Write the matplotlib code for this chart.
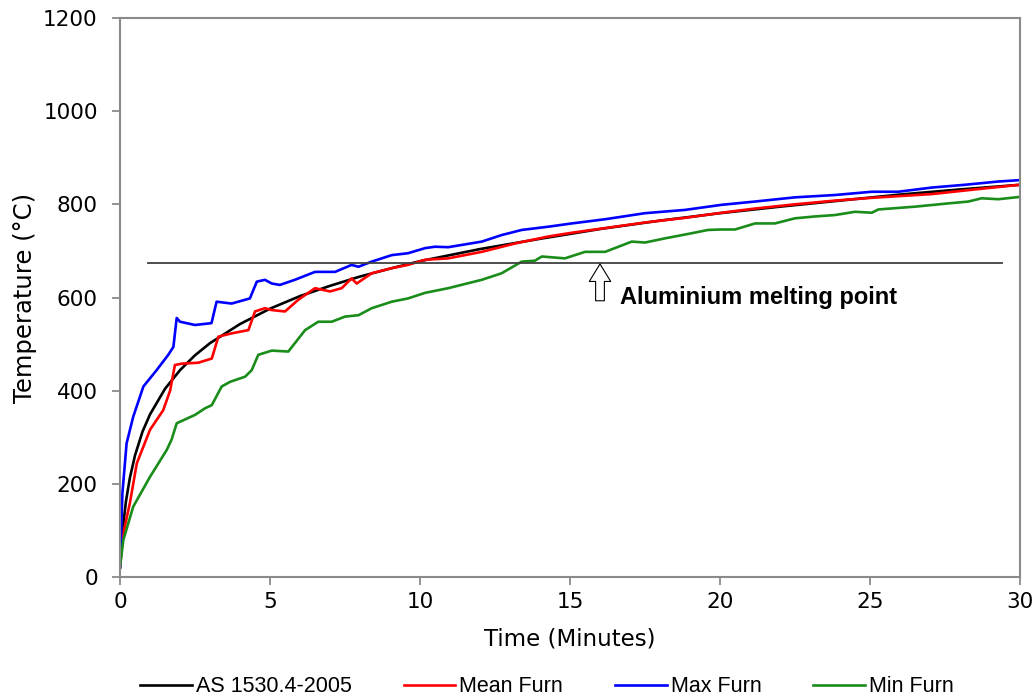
import matplotlib
matplotlib.use("Agg")
import matplotlib.pyplot as plt

plt.rcParams['font.family'] = ['Liberation Sans', 'DejaVu Sans']

# ---- data ----
std_t = [0, 0.05, 0.1, 0.2, 0.33, 0.5, 0.75, 1, 1.5, 2, 2.5, 3, 4, 5, 6, 7, 8, 9, 10, 12, 14, 16, 18, 20, 22, 24, 26, 28, 30]
std_T = [20, 70, 108, 163, 213, 261, 312, 349, 404, 444, 476, 502, 543, 576, 603, 625, 645, 662, 678, 704, 726, 747, 765, 781, 795, 808, 821, 832, 842]

mean_t = [0, 0.1, 0.33, 0.56, 1.0, 1.44, 1.67, 1.83, 2.06, 2.61, 3.06, 3.28, 3.72, 4.28, 4.5, 4.83, 5.06,
          5.5, 5.94, 6.5, 7.0, 7.39, 7.72, 7.89, 8.39, 9.06, 9.6, 10.17, 10.94, 12.06, 13.17, 14.28, 15.06,
          16.17, 17.5, 18.83, 20.06, 21.17, 22.5, 23.83, 25.06, 27.06, 28.5, 30]
mean_T = [21, 90, 159, 244, 316, 358, 400, 455, 458, 460, 469, 516, 523, 530, 570, 577, 573,
          570, 595, 620, 613, 620, 641, 630, 652, 663, 670, 681, 684, 698, 716, 731, 739,
          749, 761, 771, 782, 791, 800, 808, 814, 822, 832, 842]

max_t = [0, 0.08, 0.22, 0.44, 0.78, 1.22, 1.61, 1.78, 1.89, 2.0, 2.5, 3.05, 3.22, 3.72, 4.33, 4.56, 4.83, 5.06, 5.33,
         5.83, 6.5, 7.17, 7.72, 7.95, 8.39, 9.06, 9.6, 10.17, 10.5, 10.94, 12.06, 12.72, 13.39, 14.28,
         15.06, 16.17, 17.5, 18.83, 20.06, 21.17, 22.5, 23.83, 25.06, 25.94, 27.06, 28.17, 29.28, 30]
max_T = [21, 180, 287, 344, 409, 444, 477, 494, 556, 548, 541, 545, 591, 587, 598, 634, 638, 630, 627,
         638, 655, 655, 670, 666, 677, 691, 695, 706, 709, 708, 720, 734, 745, 752,
         759, 768, 781, 788, 799, 806, 815, 820, 827, 827, 836, 842, 849, 852]

min_t = [0, 0.11, 0.44, 1.0, 1.56, 1.72, 1.89, 2.5, 2.83, 3.06, 3.39, 3.67, 4.17, 4.39, 4.61, 5.06, 5.61,
         5.83, 6.17, 6.61, 7.06, 7.5, 7.95, 8.39, 9.06, 9.6, 10.17, 10.94, 12.06, 12.72, 13.39, 13.83,
         14.06, 14.83, 15.5, 16.17, 17.06, 17.5, 18.17, 19.06, 19.6, 20.06, 20.5, 21.17, 21.83, 22.5,
         23.17, 23.83, 24.5, 25.06, 25.28, 26.5, 27.61, 28.28, 28.72, 29.28, 30]
min_T = [21, 79, 151, 215, 273, 295, 330, 348, 362, 369, 409, 419, 430, 444, 477, 486, 484,
         502, 530, 548, 548, 559, 562, 577, 591, 598, 610, 620, 638, 652, 677, 679,
         688, 684, 698, 698, 720, 718, 727, 738, 745, 746, 746, 759, 759, 770,
         774, 777, 784, 782, 789, 795, 802, 806, 813, 811, 816]

melt_T = 674
melt_span = [0.93, 29.4]

legend_labels = ['AS 1530.4-2005', 'Mean Furn', 'Max Furn', 'Min Furn']
colors = ['#000000', '#ff0000', '#0000ff', '#1a8c1a']

# ---- figure ----
fig = plt.figure(figsize=(10.36, 6.99), dpi=100)
ax = fig.add_axes([120/1036, 1-577/699, 900/1036, 559/699])

lw = 1.9
l1, = ax.plot(std_t, std_T, color=colors[0], lw=lw, label=legend_labels[0])
l2, = ax.plot(mean_t, mean_T, color=colors[1], lw=lw, label=legend_labels[1])
l3, = ax.plot(max_t, max_T, color=colors[2], lw=lw, label=legend_labels[2])
l4, = ax.plot(min_t, min_T, color=colors[3], lw=lw, label=legend_labels[3])

ax.plot(melt_span, [melt_T, melt_T], color='#404040', lw=1.3)

ax.annotate('', xy=(16, melt_T - 2), xytext=(16, 593),
            arrowprops=dict(arrowstyle='simple,head_width=1.1,head_length=0.9,tail_width=0.45',
                            fc='white', ec='black', lw=0.8, mutation_scale=14,
                            shrinkA=0, shrinkB=0))
ax.text(16.67, 601, 'Aluminium melting point', fontsize=17, fontweight='bold',
        ha='left', va='center')

ax.set_xlim(0, 30)
ax.set_ylim(0, 1200)
ax.set_xticks(range(0, 31, 5))
ax.set_yticks(range(0, 1201, 200))
ax.tick_params(direction='out', length=6, width=1.2, color='#808080')
ax.tick_params(axis='y', pad=10)
ax.tick_params(axis='x', pad=5)
for lab in ax.get_xticklabels() + ax.get_yticklabels():
    lab.set_fontfamily('DejaVu Sans')
    lab.set_fontsize(15.5)
for s in ax.spines.values():
    s.set_color('#8a8a8a')
    s.set_linewidth(1.5)

ax.set_xlabel('Time (Minutes)', fontsize=16.5, family='DejaVu Sans')
ax.set_ylabel('Temperature (°C)', fontsize=17.5, family='DejaVu Sans')
ax.xaxis.set_label_coords(0.5, (577-628)/559)
ax.yaxis.set_label_coords((37-120)/900, 0.5)

fig.legend(handles=[l1, l2, l3, l4], labels=legend_labels, loc='center',
           bbox_to_anchor=(547/1036, 1-687/699), ncol=4, frameon=False,
           fontsize=15.5, handlelength=2.4, handletextpad=0.2, columnspacing=2.4)

fig.savefig('out.png', dpi=100)
